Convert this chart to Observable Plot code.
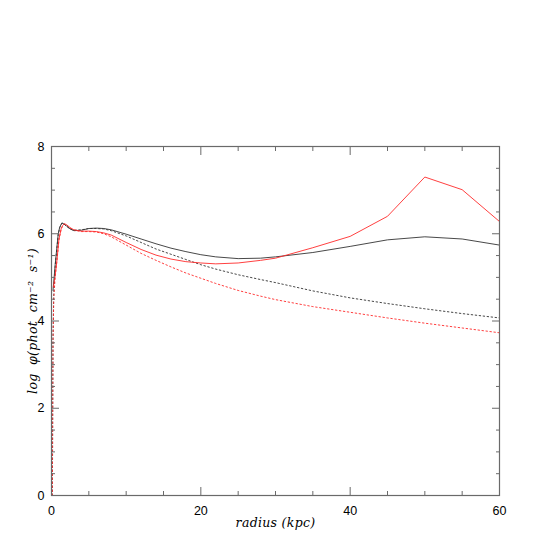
<!DOCTYPE html>
<html><head><meta charset="utf-8">
<script src="https://cdn.jsdelivr.net/npm/d3@7"></script>
<script src="https://cdn.jsdelivr.net/npm/@observablehq/plot@0.6"></script>
<style>body{margin:0;background:#fff}</style>
</head><body><div id="chart"></div>
<script>
// Tick values
const xMajorTicks = [0, 20, 40, 60];
const xMinorTicks = [5, 10, 15, 25, 30, 35, 45, 50, 55];
const yMajorTicks = [0, 2, 4, 6, 8];
const yMinorTicks = [0.5, 1, 1.5, 2.5, 3, 3.5, 4.5, 5, 5.5, 6.5, 7, 7.5];

// Black solid
const rBlackSolid   = [0.2, 0.5, 0.7, 0.9, 1.1, 1.4, 1.7, 2, 2.5, 3, 4, 5, 6, 7, 8, 10, 12, 14, 16, 18, 20, 22, 25, 28, 30, 35, 40, 45, 50, 55, 60];
const phiBlackSolid = [4.70, 5.30, 5.65, 6.00, 6.15, 6.25, 6.22, 6.18, 6.11, 6.07, 6.08, 6.12, 6.13, 6.12, 6.09, 5.99, 5.88, 5.77, 5.67, 5.59, 5.52, 5.47, 5.43, 5.44, 5.47, 5.57, 5.71, 5.86, 5.93, 5.88, 5.74];

// Red solid
const rRedSolid   = [0.25, 0.5, 0.7, 1.0, 1.3, 1.5, 1.7, 2, 2.5, 3, 4, 5, 6, 7, 8, 10, 12, 14, 16, 18, 20, 22, 25, 28, 30, 35, 40, 45, 50, 55, 60];
const phiRedSolid = [4.78, 5.05, 5.35, 5.88, 6.12, 6.19, 6.23, 6.21, 6.14, 6.09, 6.06, 6.06, 6.05, 6.02, 5.97, 5.80, 5.64, 5.51, 5.42, 5.36, 5.33, 5.31, 5.33, 5.39, 5.44, 5.68, 5.94, 6.40, 7.30, 7.01, 6.28];

// Black dotted
const rBlackDotted   = [0.12, 0.15, 0.2, 0.3, 0.5, 0.7, 0.9, 1.1, 1.4, 1.7, 2, 2.5, 3, 4, 5, 6, 7, 8, 10, 12, 14, 16, 18, 20, 22, 25, 28, 30, 35, 40, 45, 50, 55, 60];
const phiBlackDotted = [0.0, 1.5, 3.6, 4.6, 5.28, 5.63, 5.98, 6.14, 6.24, 6.22, 6.17, 6.11, 6.08, 6.09, 6.12, 6.12, 6.11, 6.07, 5.95, 5.80, 5.65, 5.53, 5.41, 5.29, 5.19, 5.06, 4.95, 4.88, 4.69, 4.53, 4.40, 4.28, 4.17, 4.07];

// Red dotted
const rRedDotted   = [0.12, 0.15, 0.2, 0.3, 0.5, 0.7, 1.0, 1.3, 1.5, 1.7, 2, 2.5, 3, 4, 5, 6, 7, 8, 10, 12, 14, 16, 18, 20, 22, 25, 28, 30, 35, 40, 45, 50, 55, 60];
const phiRedDotted = [0.0, 1.4, 3.5, 4.5, 5.03, 5.33, 5.86, 6.11, 6.18, 6.22, 6.20, 6.13, 6.08, 6.05, 6.05, 6.04, 6.00, 5.93, 5.74, 5.55, 5.39, 5.24, 5.10, 4.98, 4.86, 4.70, 4.57, 4.49, 4.33, 4.20, 4.07, 3.95, 3.84, 3.73];

const toRows = (rs, vs) => rs.map((r, i) => ({r, v: vs[i]}));
const blackSolid = toRows(rBlackSolid, phiBlackSolid);
const redSolid = toRows(rRedSolid, phiRedSolid);
const blackDotted = toRows(rBlackDotted, phiBlackDotted);
const redDotted = toRows(rRedDotted, phiRedDotted);

const axisColor = "#6a6a6a";
const serif = "'DejaVu Serif', serif";

const chart = Plot.plot({
  width: 545, height: 545,
  marginLeft: 51, marginRight: 46, marginTop: 146, marginBottom: 50,
  x: {domain: [0, 60]},
  y: {domain: [0, 8]},
  style: {fontFamily: "'Liberation Sans', Arial, sans-serif", fontSize: "12.5px", background: "#fff", color: "#000"},
  marks: [
    Plot.line(blackDotted, {x: "r", y: "v", stroke: "#333", strokeWidth: 0.9, strokeDasharray: "1.5,2.5"}),
    Plot.line(redDotted, {x: "r", y: "v", stroke: "#ff2a2a", strokeWidth: 0.9, strokeDasharray: "1.5,2.5"}),
    Plot.line(blackSolid, {x: "r", y: "v", stroke: "#333", strokeWidth: 0.9}),
    Plot.line(redSolid, {x: "r", y: "v", stroke: "#ff2a2a", strokeWidth: 0.9}),
    Plot.frame({stroke: axisColor, strokeWidth: 1.2}),
    // tick labels
    Plot.axisX({anchor: "bottom", ticks: xMajorTicks, tickSize: 0, tickPadding: 11, label: null, tickFormat: d => String(d)}),
    Plot.axisY({anchor: "left", ticks: yMajorTicks, tickSize: 0, tickPadding: 7, label: null, tickFormat: d => String(d)}),
    // inward ticks
    Plot.axisX({anchor: "bottom", ticks: xMajorTicks, tickSize: -8, text: null, label: null, stroke: axisColor}),
    Plot.axisX({anchor: "bottom", ticks: xMinorTicks, tickSize: -4, text: null, label: null, stroke: axisColor}),
    Plot.axisX({anchor: "top", ticks: xMajorTicks, tickSize: -8, text: null, label: null, stroke: axisColor}),
    Plot.axisX({anchor: "top", ticks: xMinorTicks, tickSize: -4, text: null, label: null, stroke: axisColor}),
    Plot.axisY({anchor: "left", ticks: yMajorTicks, tickSize: -8, text: null, label: null, stroke: axisColor}),
    Plot.axisY({anchor: "left", ticks: yMinorTicks, tickSize: -4, text: null, label: null, stroke: axisColor}),
    Plot.axisY({anchor: "right", ticks: yMajorTicks, tickSize: -8, text: null, label: null, stroke: axisColor}),
    Plot.axisY({anchor: "right", ticks: yMinorTicks, tickSize: -4, text: null, label: null, stroke: axisColor}),
    // axis titles
    Plot.text(["radius (kpc)"], {text: d => d, frameAnchor: "bottom", dy: 31, textAnchor: "middle", fontFamily: serif, fontStyle: "italic", fontSize: 12.5, fill: "#000", className: "xlab"}),
    Plot.text(["log\u00a0\u00a0φ(phot\u00a0\u00a0cm⁻²\u00a0\u00a0s⁻¹)"], {text: d => d, frameAnchor: "left", dx: -19, rotate: -90, textAnchor: "middle", fontFamily: serif, fontStyle: "italic", fontSize: 12.5, fill: "#000", className: "ylab"})
  ]
});
d3.select(chart).selectAll(".ylab text").style("letter-spacing", "0.3px");
d3.select(chart).selectAll(".xlab text").style("letter-spacing", "0.3px");
document.getElementById("chart").appendChild(chart);
</script>
</body></html>
